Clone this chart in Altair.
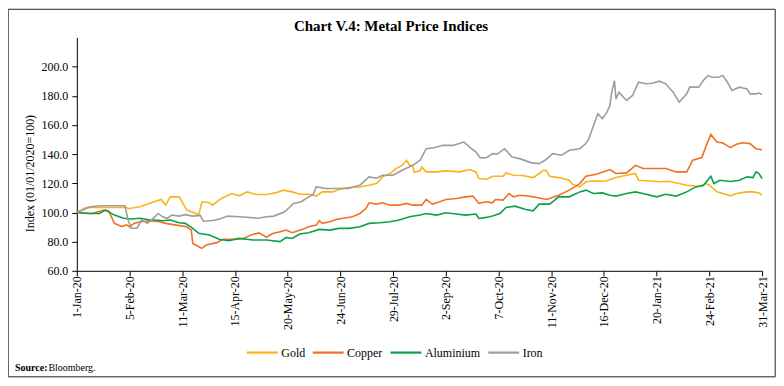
import altair as alt
import pandas as pd

series_names = ["Gold", "Copper", "Aluminium", "Iron"]
series_colors = ["#FBB21B", "#F36F25", "#0BA14B", "#9D9D9D"]

# days since 1-Jan-2020 and index values
gold_day = [0, 6, 20, 32, 35, 42, 48, 56, 59, 62, 68, 73, 79, 81, 83, 88, 90, 96, 103, 108,
            113, 119, 126, 132, 137, 143, 148, 154, 159, 163, 170, 174, 179, 188, 194, 199, 203,
            208, 212, 216, 219, 221, 223, 224, 228, 229, 232, 239, 245, 254, 261, 265, 267, 272,
            276, 283, 285, 290, 296, 303, 307, 310, 312, 314, 320, 327, 329, 334, 338, 343, 351,
            358, 365, 371, 373, 380, 387, 393, 400, 405, 413, 418, 420, 425, 429, 434, 438, 445,
            449, 453, 455]
gold_val = [100, 103.4, 103.4, 103.4, 102.7, 103.9, 106.2, 108.9, 105, 110.7, 110.7, 101.6, 99.3,
            98.2, 107.3, 106.6, 105, 109.6, 113, 111.4, 114.1, 112.3, 112.3, 113.4, 115.3, 114.1,
            112.5, 112.5, 111.2, 114.1, 114.1, 115.7, 116.9, 117.5, 118.7, 119.8, 124.4, 126.7,
            130.1, 132.3, 135.8, 132.3, 132.3, 127.5, 128.5, 131.2, 127.8, 127.8, 128.5, 127.8,
            129.4, 127.8, 123.2, 122.6, 124.8, 124.8, 127.1, 125.5, 125.3, 123.9, 126.7, 129,
            128.5, 124.8, 123.9, 122.1, 119.4, 117.5, 121, 121.6, 121.4, 123.9, 125.5, 126.7,
            122.1, 121.6, 121, 121.4, 119.8, 118.7, 118, 119.8, 118.7, 114.1, 113, 111.4, 113,
            114.1, 114.1, 113.4, 111.8]

copper_day = [0, 10, 18, 21, 23, 25, 30, 33, 35, 38, 42, 48, 55, 59, 66, 73, 76, 77, 79, 81, 83,
              86, 93, 97, 103, 110, 117, 121, 126, 130, 135, 139, 143, 150, 154, 159, 161, 163,
              168, 172, 176, 183, 188, 192, 194, 199, 203, 208, 214, 219, 223, 229, 232, 236, 241,
              245, 252, 258, 263, 267, 272, 276, 278, 283, 287, 290, 294, 298, 303, 312, 320, 327,
              334, 338, 345, 354, 358, 365, 371, 376, 382, 391, 398, 405, 409, 415, 418, 421, 425,
              429, 434, 438, 442, 447, 451, 455]
copper_val = [100, 99.3, 101.6, 101.2, 97, 92.5, 90.3, 91.5, 90.2, 92.5, 93.6, 94.3, 93.6, 92.5,
              91.3, 90.2, 87.9, 78.8, 77.7, 76.5, 75.4, 77.7, 79.3, 81.6, 81.6, 82, 85, 86, 83,
              85.5, 86.8, 87.9, 86.1, 88.4, 90.2, 91.3, 94.3, 92.5, 93.6, 95.2, 95.9, 97, 99.3,
              102.7, 106.6, 105.7, 106.6, 105, 105, 106.2, 105, 105, 108.9, 105.7, 107.3, 108.9,
              109.6, 110.7, 111.2, 106.2, 107.3, 106.6, 108.9, 108.5, 113, 110.7, 111.8, 111.4,
              110.7, 108.9, 111.8, 115.3, 119.8, 124.8, 126.2, 129.4, 126.7, 127.1, 132.3, 130.1,
              130.1, 130.1, 127.8, 127.8, 135.8, 137.6, 146, 153.5, 148.3, 147.6, 144.4, 146.7,
              147.8, 147.2, 143.7, 143]

alu_day = [0, 8, 15, 19, 25, 31, 36, 42, 48, 52, 57, 62, 68, 72, 77, 81, 88, 95, 101, 108, 117,
           126, 135, 139, 143, 148, 154, 161, 168, 174, 181, 188, 194, 201, 208, 214, 221, 228,
           232, 239, 245, 252, 258, 265, 267, 272, 276, 281, 285, 291, 298, 303, 307, 314, 320,
           327, 334, 338, 343, 349, 354, 358, 365, 371, 378, 385, 391, 398, 405, 411, 416, 421,
           423, 427, 434, 440, 445, 449, 451, 453, 455]
alu_val = [100, 99.3, 99.3, 101.6, 98.2, 96, 95.5, 96, 95, 94.8, 94.3, 94.8, 92.9, 92.5, 89.1,
           85.7, 84.5, 81.5, 80.6, 82.2, 81.1, 81.1, 80, 82.9, 82.2, 85.2, 86.1, 88.4, 87.9, 89.1,
           89.1, 90.2, 92.5, 92.9, 93.6, 94.8, 97, 98.2, 99.3, 98.2, 99.8, 98.9, 98.2, 98.9, 95.9,
           96.6, 97.5, 99.3, 103.4, 104.3, 102, 101.1, 105.7, 105.7, 110.7, 110.7, 114.1, 115.3,
           113, 113.4, 111.8, 111.2, 113, 114.1, 112.5, 110.7, 112.5, 111.2, 114.1, 117.5, 118.5,
           124.8, 119.8, 122.1, 121.2, 122.1, 124.4, 123.9, 127.8, 126.6, 123.2]

iron_day = [0, 9, 16, 25, 32, 34, 36, 40, 43, 47, 52, 54, 57, 60, 63, 68, 72, 77, 82, 84, 90, 95,
            100, 108, 115, 120, 126, 131, 138, 144, 149, 153, 157, 159, 165, 172, 180, 188, 194,
            199, 203, 210, 216, 223, 228, 232, 237, 243, 250, 254, 257, 262, 265, 268, 272, 276,
            279, 284, 289, 294, 302, 307, 311, 316, 322, 327, 334, 338, 340, 342, 346, 349, 352,
            354, 355, 357, 358, 360, 365, 369, 373, 378, 382, 387, 391, 396, 400, 405, 407, 413,
            416, 419, 422, 426, 429, 432, 435, 440, 445, 447, 451, 453, 455]
iron_val = [100, 103.9, 104.6, 104.6, 104.6, 95, 89.2, 89.2, 94.8, 92.5, 97.1, 99.3, 97, 96, 98.2,
            97.5, 98.5, 97.5, 98, 94, 94.5, 95.5, 97.5, 97, 96.5, 96, 97, 97.5, 100.5, 106.2,
            107.4, 110, 112.5, 117.6, 116.4, 116.4, 116.5, 118.7, 124.4, 123.5, 125.5, 125.5,
            128.9, 132.3, 135.8, 143.7, 144.4, 146, 146, 147.2, 148.3, 143.7, 141.5, 137.4, 137.6,
            140.3, 140, 143.7, 138, 136.9, 134, 133.5, 135.8, 140.3, 139.2, 142.6, 143.7, 147.2,
            150.6, 156.3, 167.7, 164.2, 168.8, 173.3, 181.3, 190.4, 177.9, 182.5, 176.8, 180.2,
            189.3, 188.2, 188.6, 190, 188.2, 182.5, 175.6, 181.3, 185.9, 185.9, 190.4, 193.8,
            192.7, 192.7, 193.8, 189.3, 183.6, 185.9, 184.7, 181.3, 181.3, 181.9, 180.9]

y_ticks = [60, 80, 100, 120, 140, 160, 180, 200]
tick_step_days = 35
n_ticks = 14

start = pd.Timestamp("2020-01-01")
rows = []
for name, days, vals in zip(series_names,
                            [gold_day, copper_day, alu_day, iron_day],
                            [gold_val, copper_val, alu_val, iron_val]):
    for d, v in zip(days, vals):
        rows.append({"series": name,
                     "date": (start + pd.Timedelta(days=d)).strftime("%Y-%m-%d"),
                     "value": v})
df = pd.DataFrame(rows)

def ms(ts):
    return int(pd.Timestamp(ts).tz_localize("UTC").value // 10**6)

x_ticks = [ms(start + pd.Timedelta(days=tick_step_days * k)) for k in range(n_ticks)]

W, H = 687, 234

FONT = "Liberation Serif"

lines = alt.Chart(df).mark_line(strokeWidth=1.6).encode(
    x=alt.X("date:T",
            scale=alt.Scale(type="utc", domain=[x_ticks[0], x_ticks[-1]]),
            axis=alt.Axis(values=x_ticks, title=None, grid=False,
                          labelExpr="utcFormat(datum.value, '%-d-%b-%y')",
                          labelAngle=-90, labelFont=FONT, labelFontSize=12,
                          labelColor="#000", tickColor="#000", domainColor="#000",
                          tickSize=5, labelPadding=0, labelOverlap=False,
                          labelBound=False, labelFlush=False)),
    y=alt.Y("value:Q",
            scale=alt.Scale(domain=[60, 220], nice=False, zero=False),
            axis=alt.Axis(values=y_ticks, format=".1f", grid=False,
                          title="Index (01/01/2020=100)", titleFont=FONT,
                          titleFontSize=12, titleFontWeight="normal", titleColor="#000",
                          titleX=-47, titleY=136, titleAngle=270,
                          titleAlign="center", titleBaseline="middle",
                          labelFont=FONT, labelFontSize=12, labelColor="#000",
                          tickColor="#000", domainColor="#000", tickSize=5,
                          labelPadding=4)),
    color=alt.Color("series:N",
                    scale=alt.Scale(domain=series_names, range=series_colors),
                    legend=alt.Legend(orient="none", legendX=169, legendY=299,
                                      direction="horizontal", title=None,
                                      symbolType="stroke", symbolSize=961,
                                      symbolStrokeWidth=2.2, labelFont=FONT,
                                      labelFontSize=12, labelColor="#000",
                                      labelOffset=2, columnPadding=3, padding=0)),
)

frame = alt.Chart(pd.DataFrame({"k": [0]})).mark_rect(
    fill="transparent", stroke="#222", strokeWidth=1
).encode(x=alt.value(-68.8), x2=alt.value(700.2), y=alt.value(-28.2), y2=alt.value(340.3))

title = alt.Chart(pd.DataFrame({"t": ["Chart V.4: Metal Price Indices"]})).mark_text(
    font=FONT, fontSize=15, fontWeight="bold", align="center", baseline="alphabetic",
    color="#000"
).encode(text="t:N", x=alt.value(315), y=alt.value(-6))

src_bold = alt.Chart(pd.DataFrame({"t": ["Source:"]})).mark_text(
    font=FONT, fontSize=10, fontWeight="bold", align="left", baseline="alphabetic",
    color="#000"
).encode(text="t:N", x=alt.value(-62), y=alt.value(334))

src = alt.Chart(pd.DataFrame({"t": ["Bloomberg."]})).mark_text(
    font=FONT, fontSize=10, align="left", baseline="alphabetic", color="#000"
).encode(text="t:N", x=alt.value(-28.5), y=alt.value(334))

chart = alt.layer(lines, frame, title, src_bold, src).properties(
    width=W, height=H,
    autosize=alt.AutoSizeParams(type="none"),
    padding={"left": 69, "top": 29, "right": 14, "bottom": 107},
).configure_view(stroke=None)

chart.save("out.html", embed_options={"renderer": "svg", "actions": False})
